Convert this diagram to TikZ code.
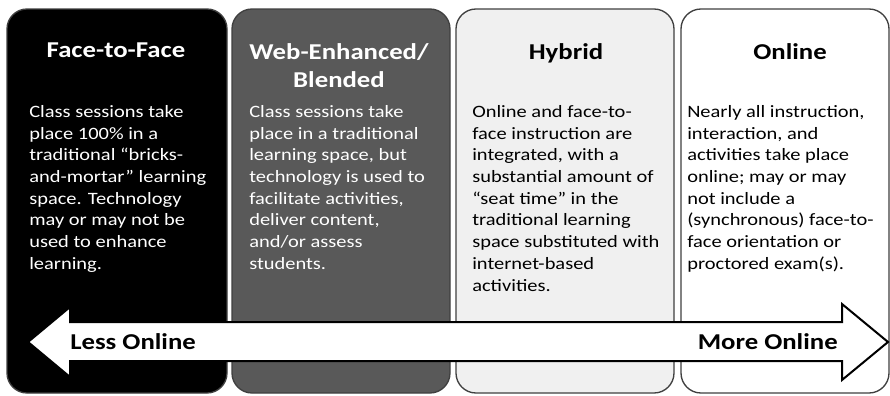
\documentclass[tikz,border=0pt]{standalone}
\usepackage{fontspec}
\setmainfont{Carlito}[FakeStretch=1.18]
\begin{document}
\begin{tikzpicture}[x=0.75pt,y=-0.75pt,%
% common options for the panels:
panel/.style = {draw=black!75, line width=1pt, rounded corners=15pt},
% common options for the titles:
title/.style = {font=\fontsize{17}{21}\selectfont\bfseries, align=center,
            anchor=north, inner sep=0},
% common options for the descriptions:
desc/.style = {font=\fontsize{13}{16.3}\selectfont, align=left,
            anchor=north west, inner sep=0},
% the double arrow and its labels:
onlinearrow/.style = {draw=black, line width=1.5pt, fill=white},
ends/.style = {font=\fontsize{17}{21}\selectfont\bfseries, inner sep=0}]
\useasboundingbox (0,0) rectangle (890,396);
\fill[white] (0,0) rectangle (890,396);
\path[panel, fill=black] (7,9) rectangle (227,393);
\path[panel, fill=black!65] (232,9) rectangle (450,393);
\path[panel, fill=black!6] (456,9) rectangle (674,393);
\path[panel, fill=white] (681,9) rectangle (889,393);
\node[title, text=white] (T1) at (116,43) {Face-to-Face};
\node[title, text=white] (T2) at (339,43) {Web-Enhanced/\\Blended};
\node[title] (T3) at (566,43) {Hybrid};
\node[title] (T4) at (790,43) {Online};
\node[desc, text=white] (D1) at (29,105) {Class sessions take\\place 100\% in a\\traditional ``bricks-\\and-mortar'' learning\\space. Technology\\may or may not be\\used to enhance\\learning.};
\node[desc, text=white] (D2) at (249,105) {Class sessions take\\place in a traditional\\learning space, but\\technology is used to\\facilitate activities,\\deliver content,\\and/or assess\\students.};
\node[desc] (D3) at (472,105) {Online and face-to-\\face instruction are\\integrated, with a\\substantial amount of\\``seat time'' in the\\traditional learning\\space substituted with\\internet-based\\activities.};
\node[desc] (D4) at (687,105) {Nearly all instruction,\\interaction, and\\activities take place\\online; may or may\\not include a\\(synchronous) face-to-\\face orientation or\\proctored exam(s).};
\draw[onlinearrow] (28,342) -- (70,307) -- (70,322) -- (842,322) -- (842,304)
  -- (888,342) -- (842,380) -- (842,361) -- (70,361) -- (70,377) -- cycle;
\node[ends, anchor=west] (L) at (70,342) {Less Online};
\node[ends, anchor=east] (M) at (838,342) {More Online};
\end{tikzpicture}
\end{document}
